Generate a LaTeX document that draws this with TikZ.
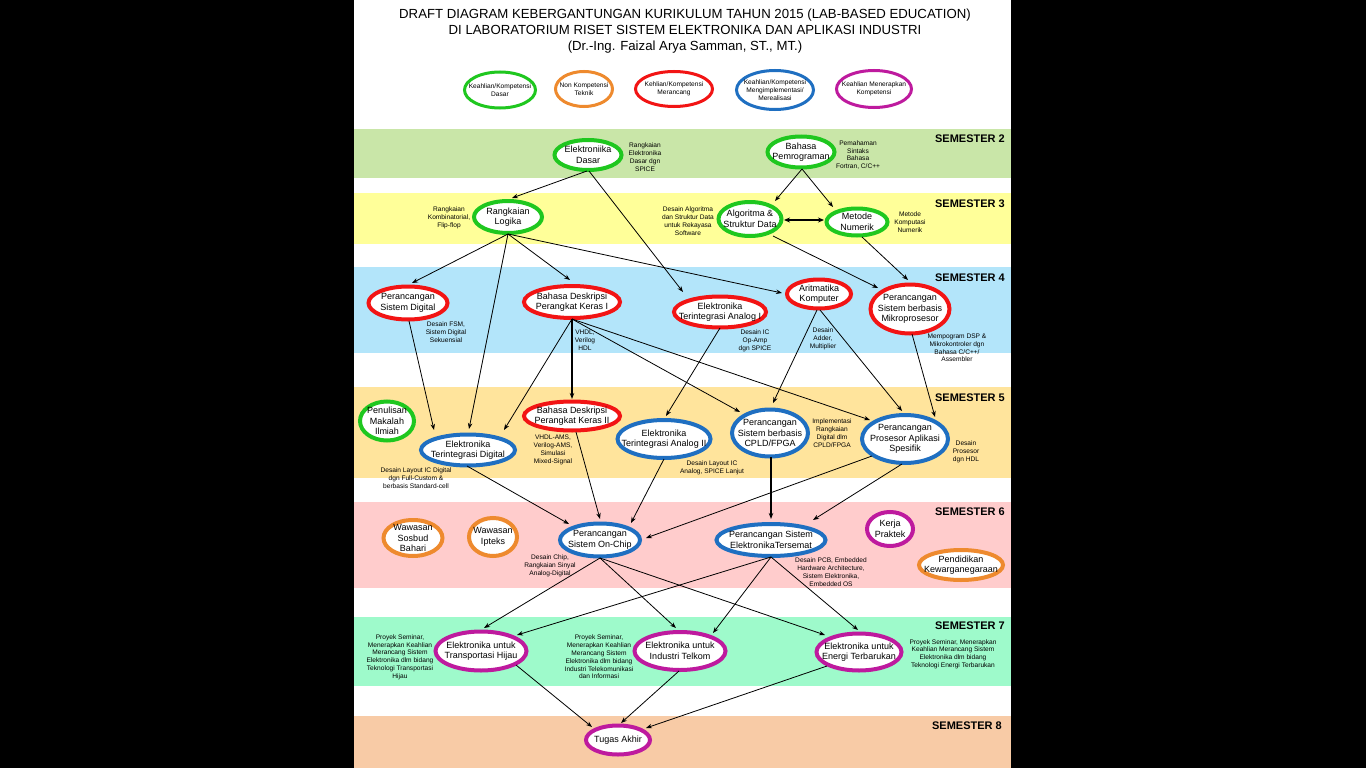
\documentclass[tikz,border=0pt]{standalone}
\usepackage{fontspec}
\setmainfont{Liberation Sans}
\usetikzlibrary{shapes.geometric,arrows.meta,calc}
\definecolor{kgreen}{HTML}{1FC71F}
\definecolor{korange}{HTML}{EE8A2E}
\definecolor{kred}{HTML}{F21414}
\definecolor{kblue}{HTML}{1F6FC1}
\definecolor{kmag}{HTML}{BE1A9E}
\definecolor{bandA}{HTML}{C9E6A8}
\definecolor{bandB}{HTML}{FFFF99}
\definecolor{bandC}{HTML}{B3E5FA}
\definecolor{bandD}{HTML}{FFE49C}
\definecolor{bandE}{HTML}{FFCCCC}
\definecolor{bandF}{HTML}{9EFACB}
\definecolor{bandG}{HTML}{F8CBA6}
\newcommand{\bub}[7]{%
  \node[bubble,#2,minimum width=#5-4,minimum height=#6-4] (#1) at (#3,#4) {};
  \node[ntxt] (#1-t) at (#1) {#7};}
\newcommand{\legb}[7]{%
  \node[legbubble,#2,minimum width=#5-3,minimum height=#6-3] (#1) at (#3,#4) {};
  \node[legtxt] (#1-t) at (#1) {#7};}
\begin{document}
\begin{tikzpicture}[x=1pt,y=-1pt,
  bubble/.style={ellipse,draw,fill=white,line width=4pt,inner sep=0pt},
  legbubble/.style={ellipse,draw,fill=white,line width=3pt,inner sep=0pt},
  ntxt/.style={align=center,inner sep=0pt,font=\fontsize{9}{10.5}\selectfont},
  legtxt/.style={align=center,inner sep=0pt,font=\fontsize{6.6}{8}\selectfont},
  note/.style={align=center,inner sep=0pt,font=\fontsize{6.6}{7.8}\selectfont},
  semlab/.style={anchor=east,inner sep=0pt,font=\fontsize{11}{12}\selectfont\bfseries},
  conn/.style={line width=0.8pt,-{Stealth[length=6pt,width=4.5pt]}},
  thickconn/.style={line width=1.2pt,-{Stealth[length=6pt,width=4.5pt]}},
  kg/.style={draw=kgreen},ko/.style={draw=korange},kr/.style={draw=kred},
  kb/.style={draw=kblue},km/.style={draw=kmag}]
\useasboundingbox (0,0) rectangle (1366,768);
\fill[black] (0,0) rectangle (1366,768);
\fill[white] (354,0) rectangle (1011,768);
% bands
\fill[bandA] (354,129) rectangle (1011,178);
\fill[bandB] (354,193) rectangle (1011,244);
\fill[bandC] (354,267) rectangle (1011,353);
\fill[bandD] (354,387) rectangle (1011,478);
\fill[bandE] (354,502) rectangle (1011,588);
\fill[bandF] (354,617) rectangle (1011,686);
\fill[bandG] (354,716) rectangle (1011,768);
% semester labels
\node[semlab] (s2) at (1005,139) {SEMESTER 2};
\node[semlab] (s3) at (1005,204) {SEMESTER 3};
\node[semlab] (s4) at (1005,278) {SEMESTER 4};
\node[semlab] (s5) at (1005,398) {SEMESTER 5};
\node[semlab] (s6) at (1005,512) {SEMESTER 6};
\node[semlab] (s7) at (1005,626) {SEMESTER 7};
\node[semlab] (s8) at (1002,726) {SEMESTER 8};
% title
\node[align=center,inner sep=0pt,font=\fontsize{13.2}{16}\selectfont] (title) at (685,31)
  {DRAFT DIAGRAM KEBERGANTUNGAN KURIKULUM TAHUN 2015 (LAB-BASED EDUCATION)\\
   DI LABORATORIUM RISET SISTEM ELEKTRONIKA DAN APLIKASI INDUSTRI\\
   (Dr.-Ing. Faizal Arya Samman, ST., MT.)};
% legend
\legb{L1}{kg}{500}{90}{74}{39}{Keahlian/Kompetensi\\Dasar}
\legb{L2}{ko}{584}{89}{60}{38}{Non Kompetensi\\Teknik}
\legb{L3}{kr}{674}{89}{80}{38}{Kehlian/Kompetensi\\Merancang}
\legb{L4}{kb}{775}{90}{80}{42}{Keahlian/Kompetensi\\Mengimplementasi/\\Merealisasi}
\legb{L5}{km}{874}{89}{78}{40}{Keahlian Menerapkan\\Kompetensi}
% bubbles
\bub{ElDasar}{kg}{588}{155}{71}{34}{Elektroniika\\Dasar}
\bub{BahasaP}{kg}{801}{152}{71}{35}{Bahasa\\Pemrograman}
\bub{RLogika}{kg}{508}{217}{72}{36}{Rangkaian\\Logika}
\bub{Algo}{kg}{750}{219}{67}{38}{Algoritma \&\\Struktur Data}
\bub{Metode}{kg}{857}{222}{65}{31}{Metode\\Numerik}
\bub{PSD}{kr}{408}{303}{83}{37}{Perancangan\\Sistem Digital}
\bub{BDPK1}{kr}{572}{302}{100}{36}{Bahasa Deskripsi\\Perangkat Keras I}
\bub{ETA1}{kr}{720}{312}{96}{35}{Elektronika\\Terintegrasi Analog I}
\bub{AritK}{kr}{819}{294}{68}{33}{Aritmatika\\Komputer}
\bub{PSBM}{kr}{910}{309}{83}{53}{Perancangan\\Sistem berbasis\\Mikroprosesor}
\bub{PMI}{kg}{387}{421}{58}{43}{Penulisan\\Makalah\\Ilmiah}
\bub{ETD}{kb}{468}{450}{98}{35}{Elektronika\\Terintegrasi Digital}
\bub{BDPK2}{kr}{572}{416}{100}{33}{Bahasa Deskripsi\\Perangkat Keras II}
\bub{ETA2}{kb}{664}{439}{97}{42}{Elektronika\\Terintegrasi Analog II}
\bub{CPLD}{kb}{770}{433}{80}{51}{Perancangan\\Sistem berbasis\\CPLD/FPGA}
\bub{PPAS}{kb}{905}{439}{90}{52}{Perancangan\\Prosesor Aplikasi\\Spesifik}
\bub{WSB}{ko}{413}{538}{63}{40}{Wawasan\\Sosbud\\Bahari}
\bub{WI}{ko}{493}{537}{52}{42}{Wawasan\\Ipteks}
\bub{PSOC}{kb}{600}{540}{84}{37}{Perancangan\\Sistem On-Chip}
\bub{PSET}{kb}{771}{540}{113}{36}{Perancangan Sistem\\ElektronikaTersemat}
\bub{KP}{km}{890}{529}{50}{38}{Kerja\\Praktek}
\bub{PK}{ko}{961}{565}{88}{34}{Pendidikan\\Kewarganegaraan}
\bub{ETH}{km}{481}{651}{95}{43}{Elektronika untuk\\Transportasi Hijau}
\bub{EIT}{km}{680}{651}{95}{42}{Elektronika untuk\\Industri Telkom}
\bub{EET}{km}{859}{652}{89}{41}{Elektronika untuk\\Energi Terbarukan}
\bub{TA}{km}{618}{740}{68}{33}{Tugas Akhir}
% notes
\node[note] (n1) at (645,157) {Rangkaian\\Elektronika\\Dasar dgn\\SPICE};
\node[note] (n2) at (858,155) {Pemahaman\\Sintaks\\Bahasa\\Fortran, C/C++};
\node[note] (n3) at (449,218) {Rangkaian\\Kombinatorial,\\Flip-flop};
\node[note] (n4) at (688,221) {Desain Algoritma\\dan Struktur Data\\untuk Rekayasa\\Software};
\node[note] (n5) at (910,222) {Metode\\Komputasi\\Numerik};
\node[note] (n6) at (446,332) {Desain FSM,\\Sistem Digital\\Sekuensial};
\node[note] (n7) at (585,340) {VHDL,\\Verilog\\HDL};
\node[note] (n8) at (755,341) {Desain IC\\Op-Amp\\dgn SPICE};
\node[note] (n9) at (823,339) {Desain\\Adder,\\Multiplier};
\node[note] (n10) at (957,348) {Mempogram DSP \&\\Mikrokontroler dgn\\Bahasa C/C++/\\Assembler};
\node[note] (n11) at (416,478) {Desain Layout IC Digital\\dgn Full-Custom \&\\berbasis Standard-cell};
\node[note] (n12) at (553,450) {VHDL-AMS,\\Verilog-AMS,\\Simulasi\\Mixed-Signal};
\node[note] (n13) at (712,468) {Desain Layout IC\\Analog, SPICE Lanjut};
\node[note] (n14) at (832,433) {Implementasi\\Rangkaian\\Digital dlm\\CPLD/FPGA};
\node[note] (n15) at (966,452) {Desain\\Prosesor\\dgn HDL};
\node[note] (n16) at (550,566) {Desain Chip,\\Rangkaian Sinyal\\Analog-Digital};
\node[note] (n17) at (831,572) {Desain PCB, Embedded\\Hardware Architecture,\\Sistem Elektronika,\\Embedded OS};
\node[note] (n18) at (400,657) {Proyek Seminar,\\Menerapkan Keahlian\\Merancang Sistem\\Elektronika dlm bidang\\Teknologi Transportasi\\Hijau};
\node[note] (n19) at (599,657) {Proyek Seminar,\\Menerapkan Keahlian\\Merancang Sistem\\Elektronika dlm bidang\\Industri Telekomunikasi\\dan Informasi};
\node[note] (n20) at (953,654) {Proyek Seminar, Menerapkan\\Keahlian Merancang Sistem\\Elektronika dlm bidang\\Teknologi Energi Terbarukan};
% connectors
\draw[conn] ($(ElDasar)+(-1,16)$) -- ($(RLogika)+(4,-19)$);
\draw[conn] ($(ElDasar)+(1,16)$) -- ($(ETA1)+(-37,-20)$);
\draw[conn] ($(BahasaP)+(1,17)$) -- ($(Algo)+(25,-18)$);
\draw[conn] ($(BahasaP)+(1,17)$) -- ($(Metode)+(-24,-15)$);
\draw[line width=1.2pt,{Stealth[length=6pt,width=5pt]}-{Stealth[length=6pt,width=5pt]}] ($(Algo)+(34,1)$) -- ($(Metode)+(-33,-2)$);
\draw[conn] ($(Algo)+(23,17)$) -- ($(PSBM)+(-32,-21)$);
\draw[conn] ($(Metode)+(5,15)$) -- ($(PSBM)+(-2,-29)$);
\draw[conn] ($(RLogika)+(0,17)$) -- ($(PSD)+(4,-20)$);
\draw[conn] ($(RLogika)+(0,17)$) -- ($(BDPK1)+(-2,-22)$);
\draw[conn] ($(RLogika)+(0,17)$) -- ($(AritK)+(-37,-1)$);
\draw[conn] ($(RLogika)+(0,17)$) -- ($(ETD)+(1,-21)$);
\draw[conn] ($(PSD)+(1,18)$) -- ($(ETD)+(-34,-20)$);
\draw[conn] ($(BDPK1)+(0,17)$) -- ($(ETD)+(36,-20)$);
\draw[thickconn] ($(BDPK1)+(0,17)$) -- ($(BDPK2)+(0,-17)$);
\draw[conn] ($(BDPK1)+(0,17)$) -- ($(CPLD)+(-30,-21)$);
\draw[conn] ($(BDPK1)+(0,17)$) -- ($(PPAS)+(-35,-19)$);
\draw[conn] ($(ETA1)+(0,16)$) -- ($(ETA2)+(2,-23)$);
\draw[conn] ($(AritK)+(-2,16)$) -- ($(CPLD)+(3,-30)$);
\draw[conn] ($(AritK)+(1,16)$) -- ($(PPAS)+(-3,-28)$);
\draw[conn] ($(PSBM)+(2,25)$) -- ($(PPAS)+(30,-22)$);
\draw[conn] ($(ETD)+(-1,16)$) -- ($(PSOC)+(-31,-16)$);
\draw[conn] ($(BDPK2)+(4,16)$) -- ($(PSOC)+(0,-21)$);
\draw[conn] ($(ETA2)+(0,20)$) -- ($(PSOC)+(31,-17)$);
\draw[conn] ($(PPAS)+(-33,17)$) -- ($(PSOC)+(46,-2)$);
\draw[thickconn] ($(CPLD)+(1,24)$) -- ($(PSET)+(0,-21)$);
\draw[conn] ($(PPAS)+(-3,25)$) -- ($(PSET)+(42,-20)$);
\draw[conn] ($(PSOC)+(0,18)$) -- ($(ETH)+(3,-23)$);
\draw[conn] ($(PSOC)+(0,18)$) -- ($(EIT)+(-4,-23)$);
\draw[conn] ($(PSOC)+(0,18)$) -- ($(EET)+(-34,-17)$);
\draw[conn] ($(PSET)+(0,17)$) -- ($(ETH)+(36,-16)$);
\draw[conn] ($(PSET)+(0,17)$) -- ($(EIT)+(33,-18)$);
\draw[conn] ($(PSET)+(0,17)$) -- ($(EET)+(-1,-22)$);
\draw[conn] ($(ETH)+(35,14)$) -- ($(TA)+(-26,-13)$);
\draw[conn] ($(EIT)+(-1,20)$) -- ($(TA)+(3,-17)$);
\draw[conn] ($(EET)+(-32,14)$) -- ($(TA)+(28,-12)$);
\end{tikzpicture}
\end{document}
